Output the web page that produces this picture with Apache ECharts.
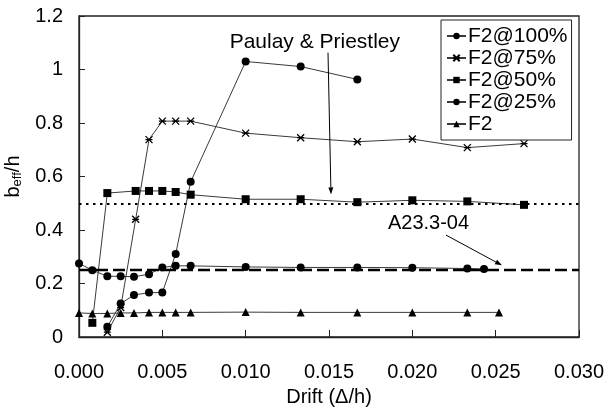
<!DOCTYPE html>
<html>
<head>
<meta charset="utf-8">
<script src="https://cdn.jsdelivr.net/npm/echarts@6/dist/echarts.min.js"></script>
<style>
  html, body { margin: 0; padding: 0; background: #fff; }
  #chart { width: 607px; height: 409px; }
</style>
</head>
<body>
<div id="chart"></div>
<script>
// Effective flange width ratio b_eff/h versus drift for the F2 specimens
var seriesNames = ['F2@100%', 'F2@75%', 'F2@50%', 'F2@25%', 'F2'];

var drift100 = [0.0017, 0.0025, 0.0033, 0.0042, 0.0050, 0.0058, 0.0067, 0.0100, 0.0133, 0.0167];
var beff100  = [0.038, 0.125, 0.157, 0.166, 0.166, 0.310, 0.580, 1.030, 1.011, 0.963];

var drift75 = [0.0017, 0.0025, 0.0034, 0.0042, 0.0050, 0.0058, 0.0067, 0.0100, 0.0133, 0.0167, 0.0200, 0.0233, 0.0267];
var beff75  = [0.018, 0.110, 0.440, 0.738, 0.807, 0.807, 0.807, 0.762, 0.745, 0.730, 0.740, 0.708, 0.723];

var drift50 = [0.0008, 0.0017, 0.0034, 0.0042, 0.0050, 0.0058, 0.0067, 0.0100, 0.0133, 0.0167, 0.0200, 0.0233, 0.0267];
var beff50  = [0.053, 0.538, 0.546, 0.546, 0.546, 0.542, 0.532, 0.515, 0.515, 0.504, 0.511, 0.507, 0.494];

var drift25 = [0.0000, 0.0008, 0.0017, 0.0025, 0.0033, 0.0042, 0.0050, 0.0058, 0.0067, 0.0100, 0.0133, 0.0167, 0.0200, 0.0233, 0.0243];
var beff25  = [0.275, 0.250, 0.227, 0.227, 0.225, 0.235, 0.260, 0.266, 0.266, 0.262, 0.260, 0.260, 0.259, 0.256, 0.254];

var driftF2 = [0.0000, 0.0008, 0.0017, 0.0025, 0.0033, 0.0042, 0.0050, 0.0058, 0.0067, 0.0100, 0.0133, 0.0167, 0.0200, 0.0233, 0.0252];
var beffF2  = [0.090, 0.088, 0.088, 0.090, 0.090, 0.092, 0.092, 0.092, 0.092, 0.093, 0.092, 0.092, 0.092, 0.092, 0.092];

// Code limits drawn as horizontal reference lines
var paulayLimit = 0.5;
var aciLimit = 0.25;

var xTicks = { min: 0, max: 0.03, interval: 0.005 };
var yTicks = { min: 0, max: 1.2, interval: 0.2 };

function pairs(xs, ys) {
  return xs.map(function (x, i) { return [x, ys[i]]; });
}

var FONT = '"Liberation Sans", Arial, Helvetica, sans-serif';
var LINE = '#3a3a3a';
var MARK = '#000';
var starPath = 'path://M0,0L10,10M10,0L0,10M0,5L10,5';

function lineSeries(name, data, symbol, size, extra) {
  var s = {
    name: name,
    type: 'line',
    data: data,
    symbol: symbol,
    symbolSize: size,
    showAllSymbol: true,
    lineStyle: { color: LINE, width: 1 },
    itemStyle: { color: MARK },
    emphasis: { disabled: true },
    animation: false,
    z: 3
  };
  for (var k in extra) s[k] = extra[k];
  return s;
}

var chart = echarts.init(document.getElementById('chart'), null, { renderer: 'canvas' });

var option = {
  backgroundColor: '#fff',
  animation: false,
  textStyle: { fontFamily: FONT, color: '#000' },
  grid: {
    left: 79, right: 28, top: 16, bottom: 72,
    outerBoundsMode: 'none',
    containLabel: false,
    show: true, borderColor: '#222', borderWidth: 1.3, backgroundColor: 'transparent'
  },
  legend: {
    data: seriesNames,
    orient: 'vertical',
    left: 441, top: 20,
    padding: [5, 4, 5, 5],
    itemGap: 0,
    itemWidth: 19,
    itemHeight: 8,
    backgroundColor: '#fff',
    borderColor: '#222',
    borderWidth: 1,
    borderRadius: 0,
    selectedMode: false,
    textStyle: { fontFamily: FONT, fontSize: 21, color: '#000', padding: [0, 0, 0, -3], lineHeight: 22 }
  },
  xAxis: {
    type: 'value',
    min: xTicks.min, max: xTicks.max, interval: xTicks.interval,
    name: 'Drift (Δ/h)',
    nameLocation: 'middle',
    nameGap: 50,
    nameTextStyle: { fontFamily: FONT, fontSize: 20, color: '#000' },
    axisLine: { show: true, lineStyle: { color: '#222', width: 1.3 } },
    axisTick: { show: true, inside: true, length: 7, lineStyle: { color: '#222', width: 1 } },
    axisLabel: {
      fontFamily: FONT, fontSize: 20, color: '#000', margin: 25,
      formatter: function (v) { return v.toFixed(3); }
    },
    splitLine: { show: false }
  },
  yAxis: {
    type: 'value',
    min: yTicks.min, max: yTicks.max, interval: yTicks.interval,
    name: '{b|b}{s|eff}{b|/h}',
    nameLocation: 'middle',
    nameGap: 46,
    nameTextStyle: {
      fontFamily: FONT, fontSize: 20, color: '#000',
      rich: {
        b: { fontFamily: FONT, fontSize: 20, color: '#000' },
        s: { fontFamily: FONT, fontSize: 13, color: '#000', padding: [9, 0, 0, 0] }
      }
    },
    axisLine: { show: true, lineStyle: { color: '#222', width: 1.3 } },
    axisTick: { show: true, inside: true, length: 6, lineStyle: { color: '#222', width: 1 } },
    axisLabel: {
      fontFamily: FONT, fontSize: 20, color: '#000', margin: 16,
      formatter: function (v) { return String(Math.round(v * 10) / 10); }
    },
    splitLine: { show: false }
  },
  series: [
    lineSeries('F2@100%', pairs(drift100, beff100), 'circle', 8, {}),
    lineSeries('F2@75%', pairs(drift75, beff75), starPath, 7, {
      itemStyle: { color: 'transparent', borderColor: MARK, borderWidth: 1.3 }
    }),
    lineSeries('F2@50%', pairs(drift50, beff50), 'rect', 8, {}),
    lineSeries('F2@25%', pairs(drift25, beff25), 'circle', 8, {}),
    lineSeries('F2', pairs(driftF2, beffF2), 'triangle', 8, {
      markLine: {
        silent: true,
        symbol: 'none',
        label: { show: false },
        animation: false,
        data: [
          { yAxis: paulayLimit, lineStyle: { color: '#000', width: 2.2, type: [2.5, 4.5] } },
          { yAxis: aciLimit, lineStyle: { color: '#000', width: 2.4, type: [12, 5] } }
        ]
      }
    })
  ]
};

chart.setOption(option);

// Annotation texts and leader arrows, positioned in data space
function px(x, y) { return chart.convertToPixel({ gridIndex: 0 }, [x, y]); }

function arrow(from, to) {
  var a = px(from[0], from[1]);
  var b = px(to[0], to[1]);
  var ang = Math.atan2(b[1] - a[1], b[0] - a[0]);
  var L = 7, W = 2.5;
  var bx = b[0] - L * Math.cos(ang), by = b[1] - L * Math.sin(ang);
  var nx = -Math.sin(ang) * W, ny = Math.cos(ang) * W;
  return [
    { type: 'line', shape: { x1: a[0], y1: a[1], x2: bx, y2: by }, style: { stroke: '#000', lineWidth: 1 }, z: 10 },
    { type: 'polygon', shape: { points: [[b[0], b[1]], [bx + nx, by + ny], [bx - nx, by - ny]] }, style: { fill: '#000' }, z: 10 }
  ];
}

function note(text, x, y, size) {
  var p = px(x, y);
  return {
    type: 'text', x: p[0], y: p[1], z: 10,
    style: { text: text, font: size + 'px ' + FONT, fill: '#000', align: 'center', verticalAlign: 'middle' }
  };
}

var graphics = [];
graphics.push(note('Paulay & Priestley', 0.01415, 1.103, 21));
graphics = graphics.concat(arrow([0.01494, 1.063], [0.01512, 0.533]));
graphics.push(note('A23.3-04', 0.02097, 0.425, 20));
graphics = graphics.concat(arrow([0.02202, 0.381], [0.02538, 0.268]));

chart.setOption({ graphic: graphics });
</script>
</body>
</html>
